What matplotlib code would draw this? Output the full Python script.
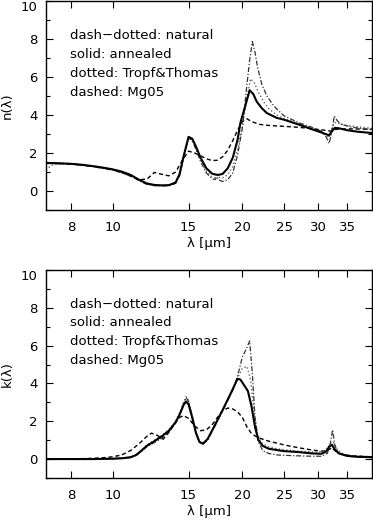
import numpy as np
import matplotlib
matplotlib.use('Agg')
from matplotlib import pyplot as plt
from matplotlib.ticker import FixedLocator, NullLocator, MultipleLocator, FixedFormatter

# ---- n(lambda) ----
lam_n_ann = [7.0, 7.5, 8, 8.5, 9, 9.5, 10, 10.5, 11, 11.5, 12, 12.5, 13, 13.5, 14, 14.3, 14.6, 15.0, 15.3,
             15.6, 16, 16.5, 17, 17.3, 17.6, 18, 18.5, 19, 19.5, 19.8, 20.3, 20.8, 21.2, 21.6, 22.2, 22.8,
             24, 25, 27, 29, 30.5, 31.2, 31.8, 32.3, 32.8, 33.5, 35, 37, 40]
n_ann = [1.48, 1.46, 1.43, 1.38, 1.31, 1.23, 1.14, 1.02, 0.85, 0.6, 0.4, 0.32, 0.3, 0.31, 0.45, 0.9, 1.8,
         2.85, 2.75, 2.35, 1.75, 1.2, 0.92, 0.87, 0.85, 0.9, 1.2, 1.75, 2.7, 3.6, 4.45, 5.3, 5.1, 4.7, 4.35,
         4.1, 3.85, 3.75, 3.5, 3.25, 3.08, 3.0, 2.93, 3.15, 3.32, 3.3, 3.2, 3.12, 3.05]

lam_n_nat = [7.0, 8, 9, 10, 11, 11.5, 12, 12.5, 13, 13.5, 14, 14.3, 14.6, 15.0, 15.3, 15.6, 16, 16.5, 17,
             17.3, 17.45, 17.6, 18, 18.5, 19, 19.5, 20, 20.5, 20.8, 21.1, 21.4, 21.7, 22.2, 22.8, 23.7, 25,
             27, 29, 30.5, 31.3, 31.8, 32.2, 32.7, 33.2, 34, 36, 40]
n_nat = [1.45, 1.42, 1.28, 1.1, 0.8, 0.55, 0.35, 0.28, 0.27, 0.28, 0.4, 0.8, 1.7, 2.8, 2.65, 2.2, 1.55,
         0.95, 0.65, 0.6, 0.75, 0.6, 0.5, 0.6, 0.95, 1.9, 3.3, 5.6, 6.9, 7.85, 7.3, 6.5, 5.6, 5.0, 4.45,
         3.95, 3.6, 3.35, 3.15, 2.85, 2.5, 3.0, 3.95, 3.7, 3.5, 3.35, 3.22]

lam_n_tt = [7.0, 7.2, 7.5, 8, 9, 10, 11, 11.5, 12, 12.5, 13, 13.5, 14, 14.3, 14.6, 15.0, 15.3, 15.6, 16,
            16.5, 17, 17.3, 17.45, 17.6, 18, 18.5, 19, 19.5, 20, 20.5, 20.9, 21.3, 21.8, 22.4, 23, 24, 25,
            27, 29, 30.5, 31.2, 31.8, 32.3, 32.8, 33.5, 35, 37, 40]
n_tt = [1.1, 1.35, 1.45, 1.43, 1.3, 1.12, 0.82, 0.58, 0.37, 0.3, 0.28, 0.3, 0.42, 0.85, 1.75, 2.8, 2.7,
        2.3, 1.65, 1.05, 0.75, 0.7, 0.95, 0.72, 0.7, 0.85, 1.3, 2.2, 3.4, 4.9, 5.9, 5.7, 5.2, 4.7, 4.35,
        4.0, 3.8, 3.55, 3.3, 3.12, 3.0, 2.8, 3.3, 3.6, 3.55, 3.45, 3.38, 3.3]

lam_n_mg = [7.0, 8, 9, 10, 10.5, 11, 11.5, 12, 12.5, 13, 13.5, 14, 14.5, 15, 15.5, 16, 16.5, 17, 17.5, 18,
            18.5, 19, 19.5, 20, 20.5, 21, 22, 23, 25, 27, 29, 31, 32, 33, 35, 40]
n_mg = [1.48, 1.43, 1.3, 1.13, 0.98, 0.78, 0.6, 0.62, 0.98, 0.88, 0.8, 1.0, 1.6, 2.1, 2.0, 1.85, 1.7, 1.6,
        1.62, 1.8, 2.15, 2.65, 3.2, 3.65, 3.8, 3.65, 3.5, 3.45, 3.4, 3.35, 3.28, 3.2, 3.15, 3.25, 3.27, 3.25]

# ---- k(lambda) ----
lam_k_ann = [7, 8, 9, 10, 10.5, 11, 11.3, 11.6, 12, 12.5, 13, 13.5, 14, 14.3, 14.6, 14.8, 15.0, 15.3, 15.6,
             15.9, 16.2, 16.6, 17, 17.5, 18, 18.5, 19, 19.5, 19.8, 20.2, 20.6, 21, 21.4, 21.8, 22.3, 23, 24,
             25, 27, 29, 30.5, 31.3, 31.8, 32.3, 32.8, 33.5, 35, 37, 40]
k_ann = [0, 0, 0, 0.02, 0.04, 0.1, 0.2, 0.4, 0.7, 0.95, 1.2, 1.5, 1.95, 2.35, 2.85, 3.05, 2.9, 2.2, 1.4,
         0.9, 0.82, 1.05, 1.5, 2.05, 2.6, 3.15, 3.7, 4.25, 4.2, 3.9, 3.6, 2.8, 1.7, 1.0, 0.7, 0.55, 0.48,
         0.42, 0.37, 0.3, 0.28, 0.4, 0.65, 0.75, 0.5, 0.3, 0.17, 0.12, 0.1]

lam_k_nat = [7, 9, 10, 11, 11.3, 11.6, 12, 12.5, 13, 13.5, 14, 14.3, 14.6, 14.8, 15.0, 15.3, 15.6, 15.9,
             16.2, 16.6, 17, 17.5, 18, 18.5, 19, 19.5, 20, 20.4, 20.8, 21.1, 21.4, 21.8, 22.3, 23, 24, 25,
             27, 29, 30.5, 31.5, 32.0, 32.4, 32.8, 33.5, 35, 40]
k_nat = [0, 0, 0.02, 0.08, 0.17, 0.35, 0.65, 0.88, 1.1, 1.45, 1.9, 2.35, 2.9, 3.25, 3.05, 2.2, 1.4, 0.9,
         0.8, 1.0, 1.45, 2.0, 2.55, 3.1, 3.65, 4.4, 5.4, 5.8, 6.25, 4.5, 2.2, 0.9, 0.45, 0.3, 0.22, 0.2,
         0.17, 0.15, 0.15, 0.3, 0.8, 1.55, 0.7, 0.3, 0.15, 0.08]

lam_k_tt = [7, 9, 10, 11, 11.3, 11.6, 12, 12.5, 13, 13.5, 14, 14.3, 14.6, 14.8, 15.0, 15.3, 15.6, 15.9,
            16.2, 16.6, 17, 17.5, 18, 18.5, 19, 19.5, 20, 20.5, 20.9, 21.3, 21.7, 22.2, 23, 24, 25, 27, 29,
            30.5, 31.5, 32.2, 32.7, 33.3, 34.5, 36, 40]
k_tt = [0, 0, 0.02, 0.09, 0.2, 0.42, 0.75, 1.0, 1.25, 1.55, 2.0, 2.45, 3.0, 3.3, 3.1, 2.3, 1.45, 0.92,
        0.8, 1.0, 1.45, 2.05, 2.6, 3.15, 3.7, 4.3, 4.8, 4.9, 4.2, 2.4, 1.3, 0.85, 0.65, 0.55, 0.5, 0.42,
        0.38, 0.38, 0.55, 0.9, 0.85, 0.45, 0.25, 0.17, 0.12]

lam_k_mg = [7, 8, 9, 9.5, 10, 10.5, 11, 11.5, 12, 12.3, 12.7, 13.1, 13.6, 14.0, 14.3, 14.6, 15.0, 15.5, 16,
            16.5, 17, 17.5, 18, 18.5, 19, 19.5, 20, 20.5, 21, 21.5, 22, 23, 24, 25, 27, 29, 30.5, 31.5,
            32.3, 33.0, 34, 36, 40]
k_mg = [0, 0.01, 0.04, 0.07, 0.12, 0.22, 0.45, 0.8, 1.2, 1.37, 1.25, 1.05, 1.5, 1.95, 2.2, 2.3, 2.15, 1.75,
        1.5, 1.55, 1.8, 2.2, 2.55, 2.7, 2.65, 2.5, 2.2, 1.7, 1.35, 1.2, 1.1, 0.95, 0.85, 0.75, 0.6, 0.48,
        0.42, 0.45, 0.6, 0.4, 0.25, 0.17, 0.12]

xticks = [8, 10, 15, 20, 25, 30, 35]
notes = ['dash\u2212dotted: natural', 'solid: annealed', 'dotted: Tropf&Thomas', 'dashed: Mg05']

plt.rcParams['font.family'] = 'DejaVu Sans'
plt.rcParams['font.size'] = 9.5

fig = plt.figure(figsize=(3.73, 5.2), dpi=100)
ax_n = fig.add_axes([0.1233, 0.596, 0.8740, 0.4025])
ax_k = fig.add_axes([0.1233, 0.0808, 0.8740, 0.4000])


def style(ax, ylab):
    ax.set_xscale('log')
    ax.set_xlim(7, 40)
    ax.set_ylim(-1, 10)
    ax.xaxis.set_major_locator(FixedLocator(xticks))
    ax.xaxis.set_major_formatter(FixedFormatter([str(t) for t in xticks]))
    ax.xaxis.set_minor_locator(NullLocator())
    ax.yaxis.set_major_locator(MultipleLocator(2))
    ax.yaxis.set_minor_locator(MultipleLocator(1))
    ax.tick_params(which='both', direction='in', top=True, right=True, width=0.8)
    ax.tick_params(which='major', length=5)
    ax.tick_params(which='minor', length=3)
    ax.tick_params(axis='x', pad=8)
    ax.tick_params(axis='y', pad=6)
    for s in ax.spines.values():
        s.set_linewidth(1.0)
    ax.set_ylabel(ylab, labelpad=5)
    ax.set_xlabel('\u03bb [\u03bcm]', labelpad=2)
    # the top "10" sits just inside the frame, as in the original
    fig.canvas.draw()
    for lab in ax.get_yticklabels():
        if lab.get_text() == '10':
            lab.set_verticalalignment('top')
    for i, t in enumerate(notes):
        ax.text(0.0736, 0.836 - i * 0.0908, t, transform=ax.transAxes, va='center', ha='left')


ax_n.plot(lam_n_mg, n_mg, '--', color='black', lw=1.0, dashes=(3, 2))
ax_n.plot(lam_n_tt, n_tt, ':', color='#666666', lw=1.0)
ax_n.plot(lam_n_nat, n_nat, '-.', color='#333333', lw=0.9, dashes=(4, 1.5, 1, 1.5))
ax_n.plot(lam_n_ann, n_ann, '-', color='black', lw=1.5)
style(ax_n, 'n(\u03bb)')

ax_k.plot(lam_k_mg, k_mg, '--', color='black', lw=1.0, dashes=(3, 2))
ax_k.plot(lam_k_tt, k_tt, ':', color='#666666', lw=1.0)
ax_k.plot(lam_k_nat, k_nat, '-.', color='#333333', lw=0.9, dashes=(4, 1.5, 1, 1.5))
ax_k.plot(lam_k_ann, k_ann, '-', color='black', lw=1.5)
style(ax_k, 'k(\u03bb)')

fig.savefig('out.png', dpi=100)
